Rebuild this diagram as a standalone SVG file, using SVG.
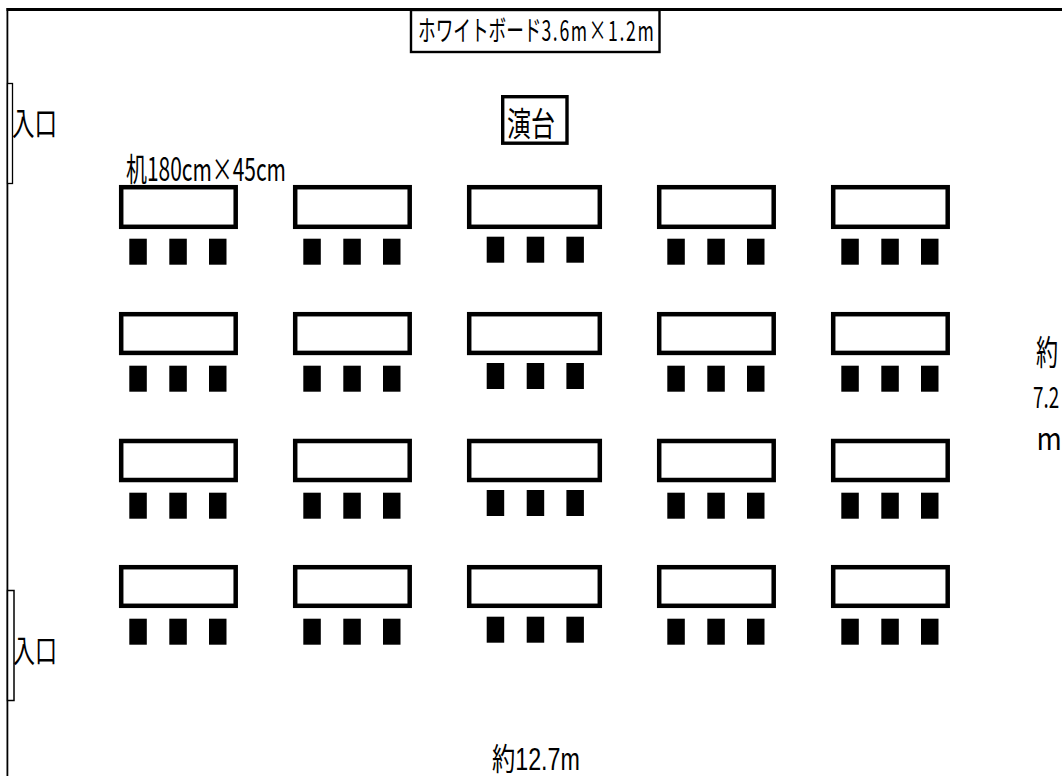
<svg xmlns="http://www.w3.org/2000/svg" width="1062" height="776" viewBox="0 0 1062 776">
<style>
.j{font-family:"Noto Sans CJK JP",sans-serif;fill:#000}
.l{font-family:"Liberation Sans","Noto Sans CJK JP",sans-serif;fill:#000}
.d{fill:#fff;stroke:#000;stroke-width:4.500}
.c{fill:#000}
</style>
<rect width="1062" height="776" fill="#fff"/>
<g id="room">
<rect x="6.500" y="8" width="1055.500" height="3" fill="#000"/>
<rect x="6.500" y="8" width="1.800" height="768" fill="#000"/>
<rect x="7.500" y="83.500" width="5" height="100" fill="#fff" stroke="#000" stroke-width="1.300"/>
<rect x="7.500" y="590.500" width="6.500" height="110" fill="#fff" stroke="#000" stroke-width="1.500"/>
</g>
<g id="whiteboard">
<rect x="411" y="10" width="248.500" height="42" fill="#fff" stroke="#000" stroke-width="2.400"/>
<text class="j" transform="translate(418 41) scale(.63 1)" font-size="28">ホワイトボード<tspan letter-spacing="2.600">3.6m×1.2m</tspan></text>
</g>
<g id="podium">
<rect x="502.700" y="96.700" width="64.300" height="46.500" fill="#fff" stroke="#000" stroke-width="3.400"/>
<text class="j" x="507" y="135.500" font-size="33" textLength="48" lengthAdjust="spacingAndGlyphs">演台</text>
</g>
<g id="entrance-top"><text class="j" x="12" y="134.500" font-size="32" textLength="45" lengthAdjust="spacingAndGlyphs">入口</text></g>
<g id="entrance-bottom"><text class="j" x="13" y="661.500" font-size="31" textLength="44" lengthAdjust="spacingAndGlyphs">入口</text></g>
<g id="desk-label"><text class="j" x="126" y="181" font-size="32" textLength="160" lengthAdjust="spacingAndGlyphs">机180cm×45cm</text></g>
<g id="width-label"><text class="l" transform="translate(492 769.500) scale(.75 1)" font-size="31">約12.7m</text></g>
<g id="height-label">
<text class="j" transform="translate(1036 365) scale(.65 1)" font-size="34">約</text>
<text class="j" transform="translate(1033 408) scale(.65 1)" font-size="29">7.2</text>
<text class="j" transform="translate(1036.500 450) scale(.88 1)" font-size="31">m</text>
</g>
<defs>
<g id="chairs"><rect class="c" x="10.300" y="0" width="17.500" height="26"/><rect class="c" x="50.300" y="0" width="17.500" height="26"/><rect class="c" x="90" y="0" width="17.500" height="26"/></g>
</defs>
<g id="row1">
<rect class="d" x="121.200" y="187.200" width="114.500" height="39.600"/><use href="#chairs" x="119" y="238.700"/>
<rect class="d" x="295.200" y="187.200" width="114.500" height="39.600"/><use href="#chairs" x="293" y="238.700"/>
<rect class="d" x="469.200" y="187.200" width="130.600" height="39.600"/><use href="#chairs" x="476.400" y="236.700"/>
<rect class="d" x="659.200" y="187.200" width="114.500" height="39.600"/><use href="#chairs" x="657" y="238.700"/>
<rect class="d" x="833.200" y="187.200" width="114.500" height="39.600"/><use href="#chairs" x="831" y="238.700"/>
</g>
<g id="row2">
<rect class="d" x="121.200" y="314.200" width="114.500" height="38.700"/><use href="#chairs" x="119" y="365.700"/>
<rect class="d" x="295.200" y="314.200" width="114.500" height="38.700"/><use href="#chairs" x="293" y="365.700"/>
<rect class="d" x="469.200" y="314.200" width="130.600" height="38.700"/><use href="#chairs" x="476.400" y="363"/>
<rect class="d" x="659.200" y="314.200" width="114.500" height="38.700"/><use href="#chairs" x="657" y="365.700"/>
<rect class="d" x="833.200" y="314.200" width="114.500" height="38.700"/><use href="#chairs" x="831" y="365.700"/>
</g>
<g id="row3">
<rect class="d" x="121.200" y="441" width="114.500" height="39"/><use href="#chairs" x="119" y="492.700"/>
<rect class="d" x="295.200" y="441" width="114.500" height="39"/><use href="#chairs" x="293" y="492.700"/>
<rect class="d" x="469.200" y="441" width="130.600" height="39"/><use href="#chairs" x="476.400" y="490"/>
<rect class="d" x="659.200" y="441" width="114.500" height="39"/><use href="#chairs" x="657" y="492.700"/>
<rect class="d" x="833.200" y="441" width="114.500" height="39"/><use href="#chairs" x="831" y="492.700"/>
</g>
<g id="row4">
<rect class="d" x="121.200" y="567.200" width="114.500" height="38.600"/><use href="#chairs" x="119" y="618.700"/>
<rect class="d" x="295.200" y="567.200" width="114.500" height="38.600"/><use href="#chairs" x="293" y="618.700"/>
<rect class="d" x="469.200" y="567.200" width="130.600" height="38.600"/><use href="#chairs" x="476.400" y="616.700"/>
<rect class="d" x="659.200" y="567.200" width="114.500" height="38.600"/><use href="#chairs" x="657" y="618.700"/>
<rect class="d" x="833.200" y="567.200" width="114.500" height="38.600"/><use href="#chairs" x="831" y="618.700"/>
</g>
</svg>
